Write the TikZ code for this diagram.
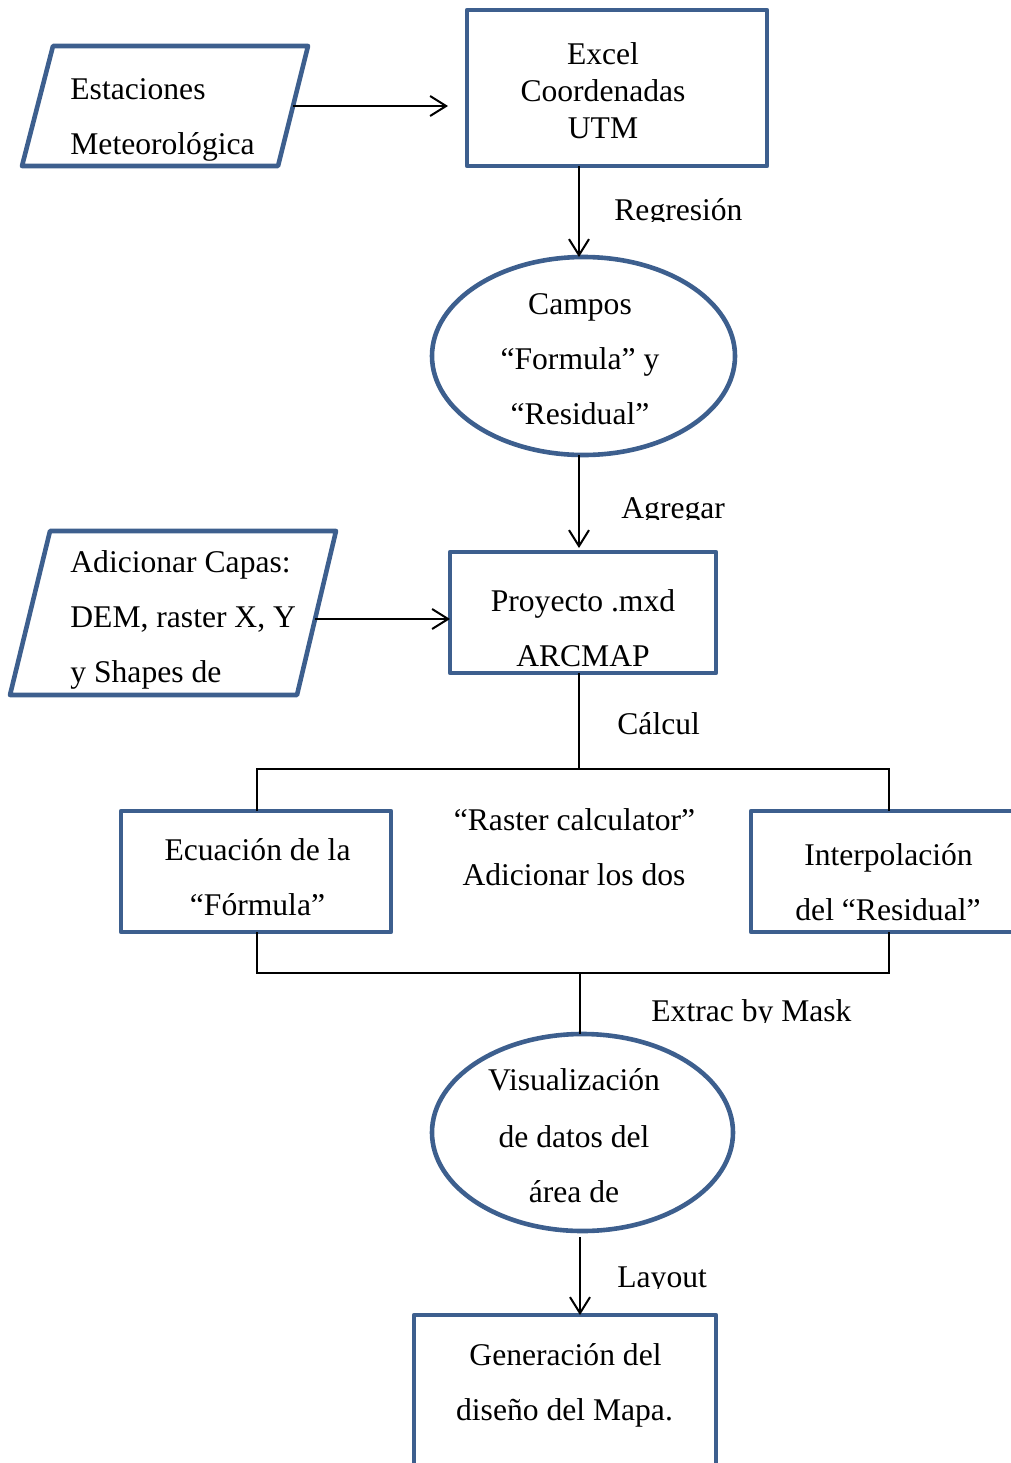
\documentclass[tikz,border=0pt]{standalone}
\usepackage{fontspec}
\setmainfont{Liberation Serif}
\usetikzlibrary{arrows.meta,shapes.geometric}
\definecolor{boxblue}{RGB}{61,95,142}
\begin{document}
\begin{tikzpicture}[x=0.5pt,y=-0.5pt,
  shapeline/.style={draw=boxblue,line width=2.3pt,line join=round},
  boxnode/.style={shapeline,rectangle,inner sep=0pt,outer sep=0pt},
  ellnode/.style={shapeline,ellipse,inner sep=0pt,outer sep=0pt},
  txt/.style={inner sep=0pt,anchor=base,font=\fontsize{15.8}{19}\selectfont},
  ltxt/.style={txt,anchor=base west},
  conn/.style={draw=black,line width=1pt},
  arr/.style={conn,-{Straight Barb[length=8pt,width=10pt,line width=1pt]}}
]
\useasboundingbox (0,0) rectangle (1011,1463);
\clip (0,0) rectangle (1011,1463);

% ---------- shapes ----------
\draw[shapeline] (53,46) coordinate (estTL) -- (308,46) -- (278,166) -- (22,166) -- cycle;
\coordinate (estR) at (293,106);
\draw[shapeline] (50,531) coordinate (adiTL) -- (336,531) -- (297,695) -- (10,695) -- cycle;
\coordinate (adiR) at (315,619);

\node[boxnode,minimum width=150pt,minimum height=78pt] (excel) at (617,88) {};
\node[ellnode,minimum width=151.5pt,minimum height=99pt] (campos) at (583.5,356) {};
\node[boxnode,minimum width=133pt,minimum height=60.5pt] (proy) at (583,612.5) {};
\node[boxnode,minimum width=135pt,minimum height=60.5pt] (ecu) at (256,871.5) {};
\node[boxnode,minimum width=138pt,minimum height=60.5pt] (interp) at (889,871.5) {};
\node[ellnode,minimum width=150.5pt,minimum height=98.5pt] (visual) at (582.5,1132.5) {};
\node[boxnode,minimum width=151pt,minimum height=92.5pt] (gen) at (565,1407.5) {};

% ---------- texts ----------
\node[ltxt] (t1a) at (70,99) {Estaciones};
\node[ltxt] (t1b) at (70,154) {Meteorológica};
\node[txt] (t2a) at (603,64) {Excel};
\node[txt] (t2b) at (603,101) {Coordenadas};
\node[txt] (t2c) at (603,138) {UTM};
\node[txt] (t3a) at (580,314) {Campos};
\node[txt] (t3b) at (580,369) {“Formula” y};
\node[txt] (t3c) at (580,424) {“Residual”};
\node[ltxt] (t4a) at (70,572) {Adicionar Capas:};
\node[ltxt] (t4b) at (70,627) {DEM, raster X, Y};
\node[ltxt] (t4c) at (70,682) {y Shapes de};
\node[txt] (t5a) at (583,611) {Proyecto .mxd};
\node[txt] (t5b) at (583,666) {ARCMAP};
\node[ltxt] (lcal) at (617,734) {Cálcul};
\node[txt] (t6a) at (257.5,860) {Ecuación de la};
\node[txt] (t6b) at (257.5,915) {“Fórmula”};
\node[txt] (t7a) at (574.5,830) {“Raster calculator”};
\node[txt] (t7b) at (574,885) {Adicionar los dos};
\node[txt] (t8a) at (888.5,865) {Interpolación};
\node[txt] (t8b) at (888,920) {del “Residual”};
\node[txt] (t9a) at (574,1090) {Visualización};
\node[txt] (t9b) at (574,1147) {de datos del};
\node[txt] (t9c) at (574,1202) {área de};
\node[txt] (t10a) at (565.5,1365) {Generación del};
\node[txt] (t10b) at (564.5,1420) {diseño del Mapa.};

% clipped labels
\begin{scope}
  \clip (600,170) rectangle (800,221.5);
  \node[ltxt] (lreg) at (614,220) {Regresión};
\end{scope}
\begin{scope}
  \clip (600,470) rectangle (800,519.5);
  \node[ltxt] (lagr) at (621,518) {Agregar};
\end{scope}
\begin{scope}
  \clip (630,980) rectangle (900,1022.5);
  \node[ltxt] (lext) at (651,1021) {Extrac by Mask};
\end{scope}
\begin{scope}
  \clip (600,1245) rectangle (800,1288.5);
  \node[ltxt] (llay) at (617,1287) {Layout};
\end{scope}

% ---------- connectors ----------
\coordinate (cA) at (579,0);
\coordinate (cB) at (580,0);
\coordinate (j1) at (579,769);
\coordinate (j2) at (580,973);

\draw[arr,shorten >=9.5pt] (estR) -- (estR -| excel.west);
\draw[arr] (excel.south -| cA) -- (campos.north -| cA);
\draw[arr,shorten >=2pt] (campos.south -| cA) -- (proy.north -| cA);
\draw[arr] (adiR) -- (adiR -| proy.west);
\draw[conn] (proy.south -| cA) -- (j1);
\draw[conn] (ecu.north -| 257,0) |- (j1) -| (interp.north);
\draw[conn] (ecu.south -| 257,0) |- (j2) -| (interp.south);
\draw[conn] (j2) -- (visual.north -| cB);
\draw[arr,shorten <=3pt] (visual.south -| cB) -- (gen.north -| cB);
\end{tikzpicture}
\end{document}
